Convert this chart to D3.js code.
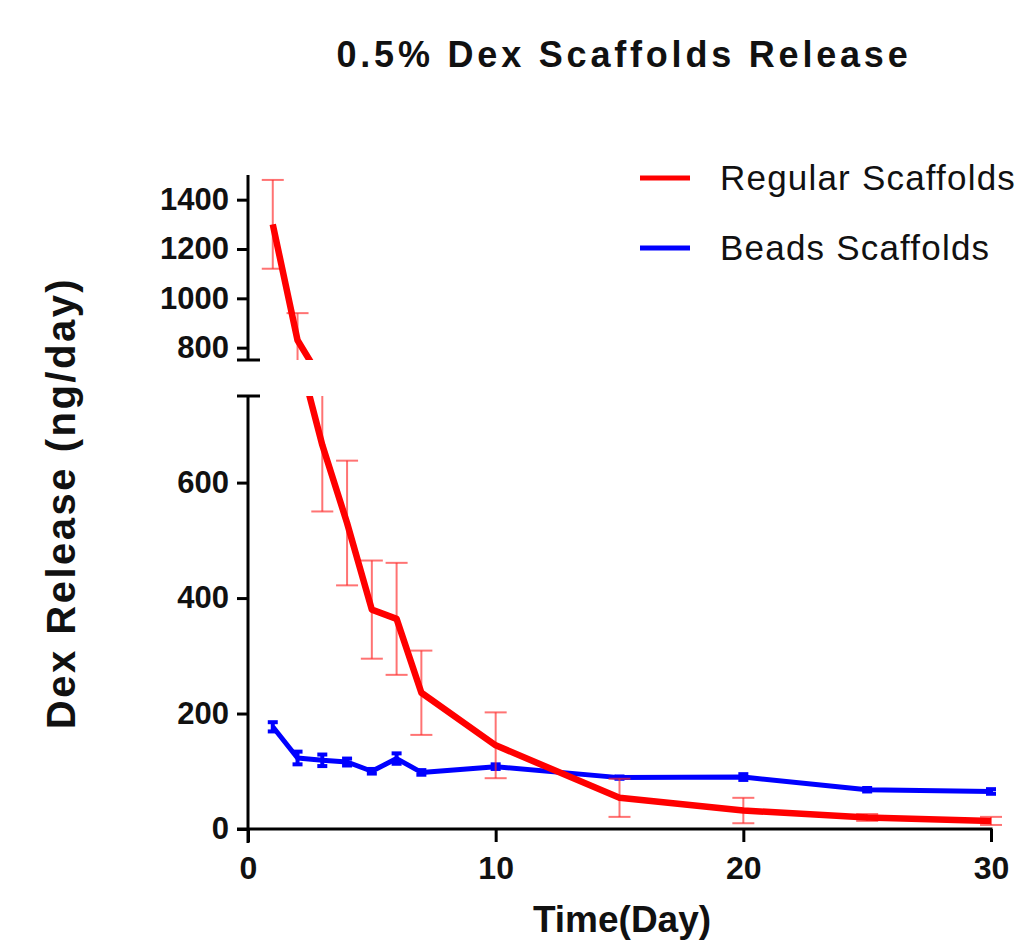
<!DOCTYPE html>
<meta charset="utf-8">
<script src="https://d3js.org/d3.v7.min.js"></script>
<style>
  body { margin: 0; background: #fff; }
  text { font-family: "Liberation Sans", Arial, sans-serif; }
</style>
<div id="my_dataviz"></div>
<script>

// data
var days = [1, 2, 3, 4, 5, 6, 7, 10, 15, 20, 25, 30]
var regular = [1300, 830, 665, 530, 380, 364, 236, 145, 54, 32, 20, 14]
var regularErr = [180, 110, 115, 108, 85, 97, 73, 57, 33, 22, 6, 7]
var beads = [177, 123, 119, 116, 100, 122, 98, 108, 89, 90, 68, 65]
var beadsErr = [8, 11, 10, 6, 4, 9, 4, 4, 2, 5, 3, 4]
var xTicks = [0, 10, 20, 30]
var yTicksLow = [0, 200, 400, 600]
var yTicksHigh = [800, 1000, 1200, 1400]
var seriesNames = ["Regular Scaffolds", "Beads Scaffolds"]

var width = 1029, height = 940

var svg = d3.select("#my_dataviz")
  .append("svg")
    .attr("width", width)
    .attr("height", height)

var x = d3.scaleLinear().domain([0, 30]).range([248, 991])
// broken y axis: two segments
var yLow = d3.scaleLinear().domain([0, 750]).range([829, 396])
var yHigh = d3.scaleLinear().domain([750, 1500]).range([360, 175])

var series = [
  { name: seriesNames[0], color: "#ff0000", errColor: "rgba(255,40,40,0.65)", values: regular, err: regularErr, lw: 6.5, ew: 2, cap: 11 },
  { name: seriesNames[1], color: "#0000ff", errColor: "#0000ff", values: beads, err: beadsErr, lw: 5, ew: 4, cap: 5 }
]

var defs = svg.append("defs")
defs.append("clipPath").attr("id", "clipLow")
  .append("rect").attr("x", 200).attr("y", 396).attr("width", 829).attr("height", 460)
defs.append("clipPath").attr("id", "clipHigh")
  .append("rect").attr("x", 200).attr("y", 150).attr("width", 829).attr("height", 210)

function drawSegment(y, clipId) {
  var lo = y.domain()[0], hi = y.domain()[1]
  var g = svg.append("g").attr("clip-path", "url(#" + clipId + ")")
  series.forEach(function(s) {
    var pts = days.map(function(d, i) { return { day: d, v: s.values[i], e: s.err[i] } })
    // error bars only for points that sit inside this segment
    var inside = pts.filter(function(d) { return d.v >= lo && d.v <= hi })
    var eb = g.selectAll(null).data(inside).enter().append("g")
    eb.append("line")
      .attr("x1", function(d) { return x(d.day) })
      .attr("x2", function(d) { return x(d.day) })
      .attr("y1", function(d) { return y(d.v - d.e) })
      .attr("y2", function(d) { return y(d.v + d.e) })
      .attr("stroke", s.errColor).attr("stroke-width", s.ew)
    ;[-1, 1].forEach(function(sign) {
      eb.append("line")
        .attr("x1", function(d) { return x(d.day) - s.cap })
        .attr("x2", function(d) { return x(d.day) + s.cap })
        .attr("y1", function(d) { return y(d.v + sign * d.e) })
        .attr("y2", function(d) { return y(d.v + sign * d.e) })
        .attr("stroke", s.errColor).attr("stroke-width", s.ew)
    })
    var line = d3.line()
      .x(function(d) { return x(d.day) })
      .y(function(d) { return y(d.v) })
    g.append("path")
      .attr("d", line(pts))
      .attr("fill", "none")
      .attr("stroke", s.color)
      .attr("stroke-width", s.lw)
      .attr("stroke-linejoin", "round")
  })
}

// red is drawn on top of blue where they cross
series.reverse()
drawSegment(yLow, "clipLow")
drawSegment(yHigh, "clipHigh")
series.reverse()

// axes
var axisW = 3
var fmt = d3.format("d")
var lowAxis = svg.append("g").attr("transform", "translate(248,0)")
lowAxis.call(d3.axisLeft(yLow).tickValues(yTicksLow).tickFormat(fmt).tickSize(11).tickPadding(8).tickSizeOuter(0))
var highAxis = svg.append("g").attr("transform", "translate(248,0)")
highAxis.call(d3.axisLeft(yHigh).tickValues(yTicksHigh).tickFormat(fmt).tickSize(11).tickPadding(8).tickSizeOuter(0))
var xAxis = svg.append("g").attr("transform", "translate(0,829)")
xAxis.call(d3.axisBottom(x).tickValues(xTicks).tickFormat(fmt).tickSize(13).tickPadding(14).tickSizeOuter(0))

;[lowAxis, highAxis, xAxis].forEach(function(a) {
  a.select(".domain").remove()
  a.selectAll(".tick line").attr("stroke", "#000").attr("stroke-width", axisW)
  a.selectAll(".tick text")
    .attr("fill", "#111")
    .style("font-size", "31px")
    .style("font-weight", "bold")
})
xAxis.selectAll(".tick text").style("font-size", "32px")

// axis lines (with break caps)
svg.append("line").attr("x1", 248).attr("x2", 248).attr("y1", yHigh(1500)).attr("y2", yHigh(750))
  .attr("stroke", "#000").attr("stroke-width", axisW)
svg.append("line").attr("x1", 237).attr("x2", 260).attr("y1", yHigh(750)).attr("y2", yHigh(750))
  .attr("stroke", "#000").attr("stroke-width", axisW)
svg.append("line").attr("x1", 248).attr("x2", 248).attr("y1", yLow(750)).attr("y2", 843)
  .attr("stroke", "#000").attr("stroke-width", axisW)
svg.append("line").attr("x1", 237).attr("x2", 260).attr("y1", yLow(750)).attr("y2", yLow(750))
  .attr("stroke", "#000").attr("stroke-width", axisW)
svg.append("line").attr("x1", 237).attr("x2", x(30) + 1.5).attr("y1", 829).attr("y2", 829)
  .attr("stroke", "#000").attr("stroke-width", axisW)

// title and axis labels
svg.append("text")
  .attr("x", 624).attr("y", 67)
  .attr("text-anchor", "middle")
  .style("font-size", "36px").style("font-weight", "bold").style("letter-spacing", "3.8px")
  .attr("fill", "#111")
  .text("0.5% Dex Scaffolds Release")

svg.append("text")
  .attr("transform", "translate(75,503) rotate(-90)")
  .attr("text-anchor", "middle")
  .style("font-size", "40px").style("font-weight", "bold").style("letter-spacing", "2.5px")
  .attr("fill", "#111")
  .text("Dex Release (ng/day)")

svg.append("text")
  .attr("x", 622).attr("y", 932)
  .attr("text-anchor", "middle")
  .style("font-size", "37px").style("font-weight", "bold")
  .attr("fill", "#111")
  .text("Time(Day)")

// legend
var legend = svg.selectAll("myLegend").data(series).enter().append("g")
  .attr("transform", function(d, i) { return "translate(0," + (178 + i * 70) + ")" })
legend.append("line")
  .attr("x1", 640).attr("x2", 690).attr("y1", 0).attr("y2", 0)
  .attr("stroke", function(d) { return d.color }).attr("stroke-width", 5)
legend.append("text")
  .attr("x", 720).attr("y", 12)
  .style("font-size", "35px").style("letter-spacing", "1.2px")
  .attr("fill", "#111")
  .text(function(d) { return d.name })

</script>
